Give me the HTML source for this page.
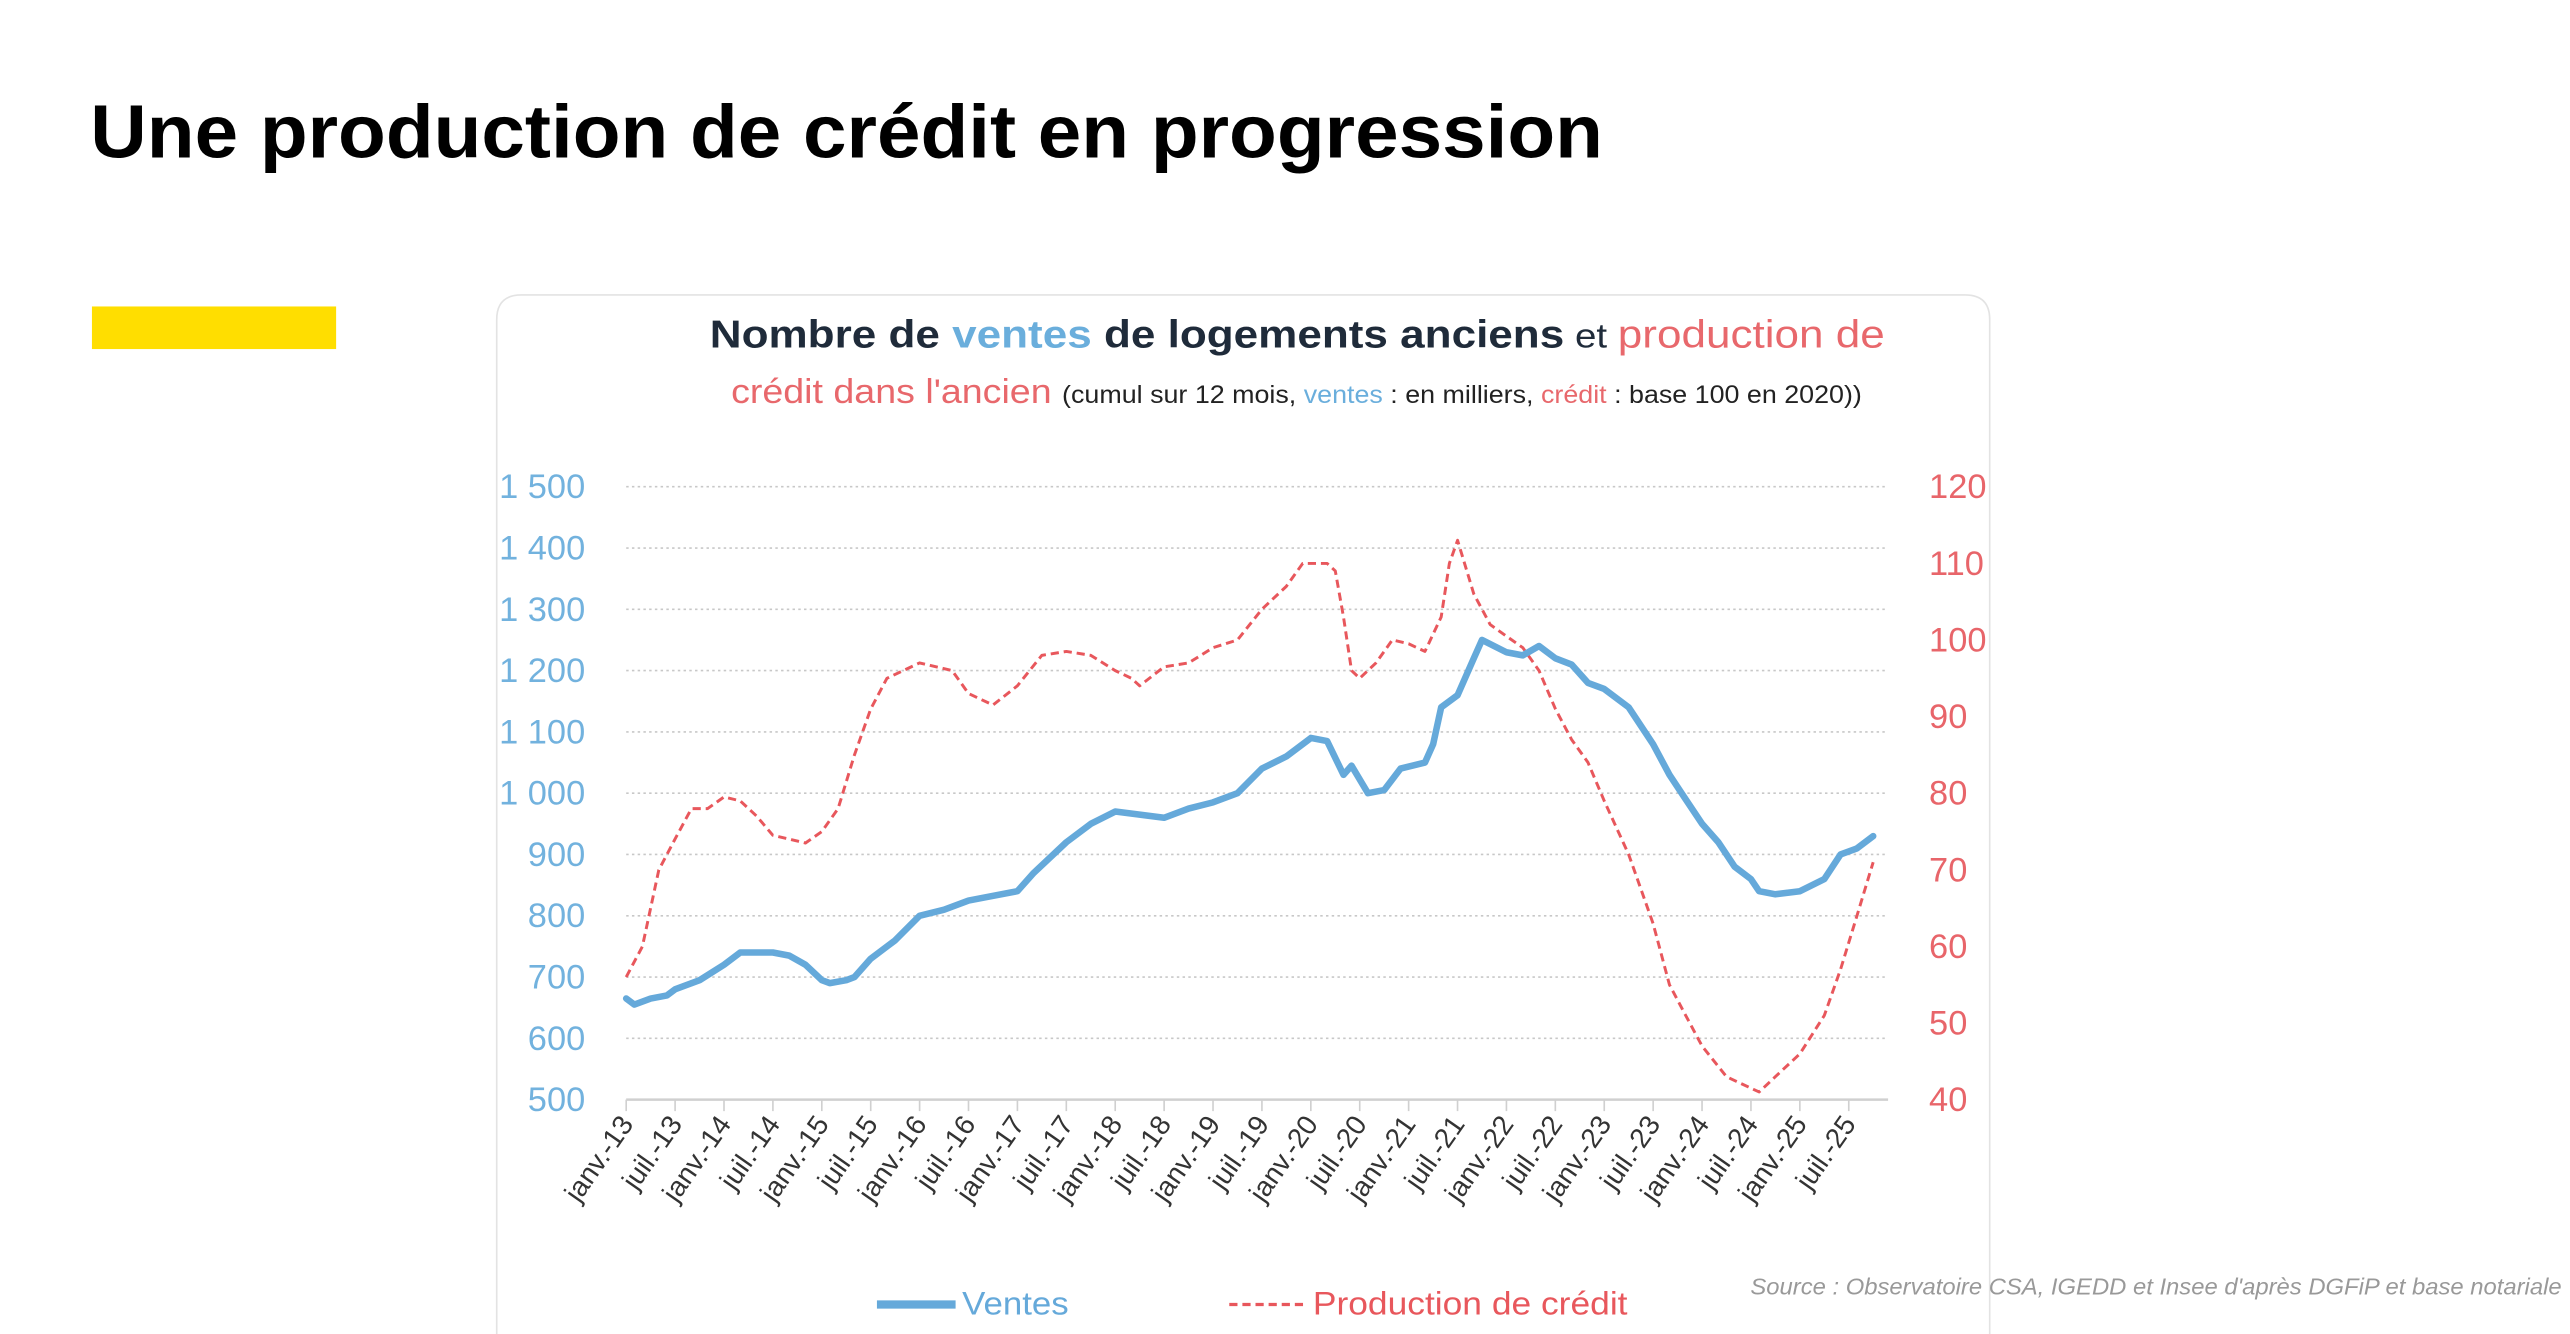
<!DOCTYPE html>
<html><head><meta charset="utf-8">
<style>
html,body{margin:0;padding:0;background:#fff;width:2570px;height:1334px;overflow:hidden}
svg{display:block}
text{font-family:"Liberation Sans",sans-serif}
</style></head>
<body>
<svg id="root" width="2570" height="1334" viewBox="0 0 1568 814" xmlns="http://www.w3.org/2000/svg">
  <text x="55" y="96" font-size="46" font-weight="bold" fill="#000" textLength="923" lengthAdjust="spacingAndGlyphs">Une production de crédit en progression</text>
  <rect x="56" y="187" width="149" height="26" fill="#ffde00"/>
  <path d="M303,830 L303,195 Q303,180 318,180 L1199,180 Q1214,180 1214,195 L1214,830" fill="#fff" stroke="#e3e3e3" stroke-width="1"/>
  <text x="433" y="212" font-size="24" textLength="717" lengthAdjust="spacingAndGlyphs"><tspan font-weight="bold" fill="#1f2b3a">Nombre de </tspan><tspan font-weight="bold" fill="#6aaedc">ventes</tspan><tspan font-weight="bold" fill="#1f2b3a"> de logements anciens</tspan><tspan fill="#1f2b3a" font-size="21"> et </tspan><tspan fill="#e8686c">production de</tspan></text>
  <text x="446" y="246" font-size="21" textLength="690" lengthAdjust="spacingAndGlyphs"><tspan fill="#e8686c">crédit dans l'ancien </tspan><tspan fill="#222" font-size="15">(cumul sur 12 mois, </tspan><tspan fill="#6aaedc" font-size="15">ventes</tspan><tspan fill="#222" font-size="15"> : en milliers, </tspan><tspan fill="#e8686c" font-size="15">crédit</tspan><tspan fill="#222" font-size="15"> : base 100 en 2020))</tspan></text>
  <g id="grid"></g>
  <g id="axes"></g>
  <g id="series"></g>
  <g>
    <line x1="535" y1="796" x2="583" y2="796" stroke="#65a9da" stroke-width="5"/>
    <text x="587" y="802" font-size="20" fill="#65a9da" textLength="65" lengthAdjust="spacingAndGlyphs">Ventes</text>
    <line x1="750" y1="796" x2="797" y2="796" stroke="#e8575c" stroke-width="2" stroke-dasharray="5,3"/>
    <text x="801" y="802" font-size="20" fill="#e8575c" textLength="192" lengthAdjust="spacingAndGlyphs">Production de crédit</text>
  </g>
  <text x="1068" y="790" font-size="14" font-style="italic" fill="#999" textLength="495" lengthAdjust="spacingAndGlyphs">Source : Observatoire CSA, IGEDD et Insee d'après DGFiP et base notariale</text>
</svg>
<script>
const leftTicks=[500,600,700,800,900,1000,1100,1200,1300,1400,1500];
const leftTickLabels=["500","600","700","800","900","1 000","1 100","1 200","1 300","1 400","1 500"];
const rightTicks=[40,50,60,70,80,90,100,110,120];
const xLabels=["janv.-13","juil.-13","janv.-14","juil.-14","janv.-15","juil.-15","janv.-16","juil.-16","janv.-17","juil.-17","janv.-18","juil.-18","janv.-19","juil.-19","janv.-20","juil.-20","janv.-21","juil.-21","janv.-22","juil.-22","janv.-23","juil.-23","janv.-24","juil.-24","janv.-25","juil.-25"];
const ventesMonths=[0,1,3,5,6,9,12,14,18,20,22,24,25,27,28,30,33,36,39,42,44,48,50,54,57,60,63,66,69,72,75,78,81,84,86,88,89,91,93,95,98,99,100,102,104,105,108,110,112,114,116,118,120,123,126,128,130,132,134,136,138,139,141,144,147,149,151,153];
const ventesValues=[665,655,665,670,680,695,720,740,740,735,720,695,690,695,700,730,760,800,810,825,830,840,870,920,950,970,965,960,975,985,1000,1040,1060,1090,1085,1030,1045,1000,1005,1040,1050,1080,1140,1160,1220,1250,1230,1225,1240,1220,1210,1180,1170,1140,1080,1030,990,950,920,880,860,840,835,840,860,900,910,930];
const creditMonths=[0,2,4,6,8,10,12,14,16,18,20,22,24,26,28,30,32,36,40,42,45,48,51,54,57,60,62,63,66,69,72,75,78,81,83,86,87,88,89,90,92,94,96,98,100,101,102,104,106,108,110,112,114,116,118,120,123,126,128,130,132,135,138,139,141,144,147,149,151,153];
const creditValues=[56,60,70,74,78,78,79.5,79,77,74.5,74,73.5,75,78,85,91,95,97,96,93,91.5,94,98,98.5,98,96,95,94,96.5,97,99,100,104,107,110,110,109,103,96,95,97,100,99.5,98.5,103,110,113,106,102,100.5,99,96,91,87,84,79,72,63,55,51,47,43,41.5,41,43,46,51,57,64,71];

const NS="http://www.w3.org/2000/svg";
const X0=382,X1=1152,Y0=671,Y1=297,monthW=(1128-382)/150;
const xScale=m=>X0+m*monthW;
const yLeft=v=>Y0-(v-500)/1000*(Y0-Y1);
const yRight=v=>Y0-(v-40)/80*(Y0-Y1);
function mk(tag,attrs,parent){const e=document.createElementNS(NS,tag);for(const k in attrs)e.setAttribute(k,attrs[k]);parent.appendChild(e);return e;}
const grid=document.getElementById('grid'),axes=document.getElementById('axes'),series=document.getElementById('series');
leftTicks.forEach((v,i)=>{
  const y=yLeft(v);
  if(i>0){const g=mk('line',{x1:X0,x2:X1,y1:y,y2:y,stroke:'#c8c8c8','stroke-width':1,'stroke-dasharray':'1.5,2'},grid);
  
  }
  const t=mk('text',{x:357,y:y+7,'font-size':21,fill:'#72b2de','text-anchor':'end'},axes);
  t.textContent=leftTickLabels[i];
  
  
});
rightTicks.forEach(v=>{
  const t=mk('text',{x:1177,y:yRight(v)+7,'font-size':21,fill:'#e8656a'},axes);
  t.textContent=String(v);
  
  
});
const ax=mk('line',{x1:X0,x2:X1,y1:Y0,y2:Y0,stroke:'#d0d0d0','stroke-width':1.5},axes);


xLabels.forEach((lab,i)=>{
  const x=xScale(i*6);
  const tk=mk('line',{x1:x,x2:x,y1:Y0,y2:Y0+7,stroke:'#d0d0d0','stroke-width':1},axes);
  
  
  const t=mk('text',{x:x+5,y:Y0+15,'font-size':17,fill:'#333','text-anchor':'end',transform:`rotate(-55 ${x+5} ${Y0+15})`},axes);
  t.textContent=lab;
  
  
});
const credPts=creditMonths.map((m,i)=>xScale(m).toFixed(1)+','+yRight(creditValues[i]).toFixed(1)).join(' ');
const cl=mk('polyline',{points:credPts,fill:'none',stroke:'#e8575c','stroke-width':1.8,'stroke-dasharray':'5,3','stroke-linejoin':'round'},series);


const ventPts=ventesMonths.map((m,i)=>xScale(m).toFixed(1)+','+yLeft(ventesValues[i]).toFixed(1)).join(' ');
const vl=mk('polyline',{points:ventPts,fill:'none',stroke:'#65a9da','stroke-width':4,'stroke-linejoin':'round','stroke-linecap':'round'},series);


</script>
</body></html>
